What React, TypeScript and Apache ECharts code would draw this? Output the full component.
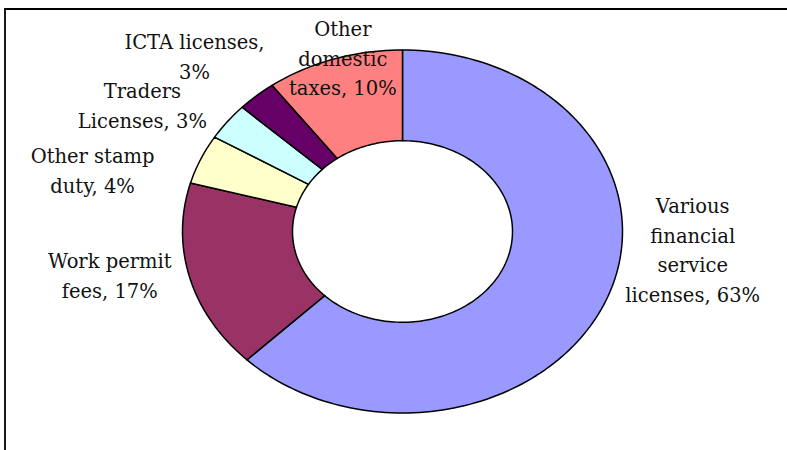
import React, { useEffect, useRef } from "react";
import * as echarts from "echarts";

// ---- data ----
const categories = [
  "Various\nfinancial\nservice\nlicenses",
  "Work permit\nfees",
  "Other stamp\nduty",
  "Traders\nLicenses",
  "ICTA licenses",
  "Other\ndomestic\ntaxes",
];
const values = [62.5, 16.8, 4.4, 3.3, 2.9, 10.1];

// ---- style / layout ----
const colors = ["#9999FF", "#993366", "#FFFFCC", "#CCFFFF", "#660066", "#FF8080"];
const separators = [", ", ", ", ", ", ", ", ",\n", ", "];
// label offsets from the outer-edge point at each slice's mid angle
const labelOffsets: [number, number][] = [
  [87, -50],
  [-80, -1],
  [-108, 12],
  [-85, -15],
  [-62, -38],
  [9, 0],
];
const CX = 402.5;
const CY = 231.5;
const RX = 220;
const RY = 181.5;
const INNER = 0.5;

export default function App() {
  const ref = useRef<HTMLDivElement>(null);
  useEffect(() => {
    if (!ref.current) return;
    const chart = echarts.init(ref.current, null, { renderer: "svg" });
    const total = values.reduce((a, b) => a + b, 0);
    const cum: number[] = [];
    let acc = 0;
    values.forEach((v) => {
      cum.push(acc);
      acc += v;
    });

    const pt = (ang: number, k: number) => [
      CX + RX * k * Math.sin(ang),
      CY - RY * k * Math.cos(ang),
    ];

    const renderItem = (params: any, api: any) => {
      const i = params.dataIndex;
      const v = api.value(1);
      const a0 = (cum[i] / total) * Math.PI * 2;
      const a1 = ((cum[i] + v) / total) * Math.PI * 2;
      const n = Math.max(4, Math.ceil(((a1 - a0) / (Math.PI * 2)) * 240));
      const points: number[][] = [];
      for (let s = 0; s <= n; s++) points.push(pt(a0 + ((a1 - a0) * s) / n, 1));
      for (let s = n; s >= 0; s--) points.push(pt(a0 + ((a1 - a0) * s) / n, INNER));
      const mid = (a0 + a1) / 2;
      const anchor = pt(mid, 1);
      const off = labelOffsets[i];
      const pct = Math.round((v / total) * 100);
      return {
        type: "group",
        children: [
          {
            type: "polygon",
            shape: { points },
            style: { fill: colors[i], stroke: "#000", lineWidth: 1.5, lineJoin: "round" },
          },
          {
            type: "text",
            z2: 10,
            style: {
              text: categories[i] + separators[i] + pct + "%",
              x: anchor[0] + off[0],
              y: anchor[1] + off[1],
              align: "center",
              verticalAlign: "middle",
              fontFamily: "DejaVu Serif",
              fontSize: 19.5,
              lineHeight: 29.5,
              fill: "#111",
            },
          },
        ],
      };
    };

    chart.setOption({
      animation: false,
      graphic: [
        {
          type: "rect",
          shape: { x: 5, y: 9, width: 900, height: 600 },
          style: { fill: "none", stroke: "#000", lineWidth: 1.8 },
          silent: true,
        },
      ],
      series: [
        {
          type: "custom",
          coordinateSystem: "none",
          renderItem,
          data: values.map((v, i) => [i, v]),
        },
      ],
    });
    return () => chart.dispose();
  }, []);
  return (
    <div
      ref={ref}
      style={{ position: "fixed", left: 0, top: 0, width: 787, height: 450, background: "#fff" }}
    />
  );
}
